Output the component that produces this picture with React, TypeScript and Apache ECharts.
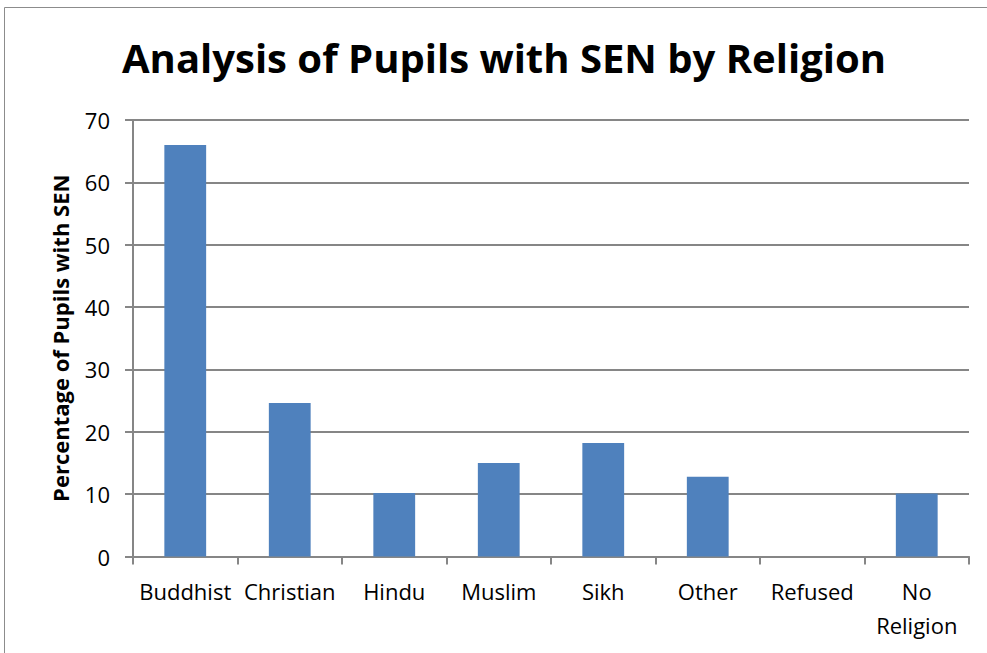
import React, { useEffect, useRef } from "react";
import * as echarts from "echarts";

const categories = ["Buddhist", "Christian", "Hindu", "Muslim", "Sikh", "Other", "Refused", "No\nReligion"];
const values = [66.0, 24.6, 10.2, 15.0, 18.2, 12.8, 0, 10.1];
const title = "Analysis of Pupils with SEN by Religion";
const yAxisName = "Percentage of Pupils with SEN";

export default function App() {
  const ref = useRef<HTMLDivElement>(null);
  useEffect(() => {
    const chart = echarts.init(ref.current!, null, { renderer: "svg" });
    const font = "Open Sans";
    chart.setOption({
      animation: false,
      backgroundColor: "#ffffff",
      graphic: [
        {
          type: "rect",
          shape: { x: 4.5, y: 7.5, width: 1200, height: 900 },
          style: { fill: "none", stroke: "#8c8c8c", lineWidth: 1 },
          silent: true,
        },
      ],
      title: {
        text: title,
        left: 117,
        top: 32,
        textStyle: { fontFamily: font, fontWeight: "bold", fontSize: 40, color: "#000" },
      },
      grid: { left: 133, right: 18, top: 120, bottom: 96.5, containLabel: false },
      xAxis: {
        type: "category",
        data: categories,
        axisLine: { lineStyle: { color: "#868686", width: 2 } },
        axisTick: { show: true, length: 8, lineStyle: { color: "#868686", width: 2 } },
        axisLabel: { fontFamily: font, fontSize: 22, color: "#000", margin: 17, lineHeight: 34, interval: 0, verticalAlign: "top" },
      },
      yAxis: {
        type: "value",
        min: 0,
        max: 70,
        interval: 10,
        name: yAxisName,
        nameLocation: "middle",
        nameGap: 62,
        nameTextStyle: { fontFamily: font, fontWeight: "bold", fontSize: 22, color: "#000" },
        axisLine: { show: true, lineStyle: { color: "#868686", width: 2 } },
        axisTick: { show: true, length: 8, lineStyle: { color: "#868686", width: 2 } },
        axisLabel: { fontFamily: font, fontSize: 22, color: "#000", margin: 23 },
        splitLine: { lineStyle: { color: "#868686", width: 2 } },
      },
      series: [
        {
          type: "bar",
          data: values,
          barWidth: "40%",
          itemStyle: { color: "#4F81BD" },
        },
      ],
    });
    return () => chart.dispose();
  }, []);
  return <div ref={ref} style={{ position: "absolute", left: 0, top: 0, width: 987, height: 653 }} />;
}
